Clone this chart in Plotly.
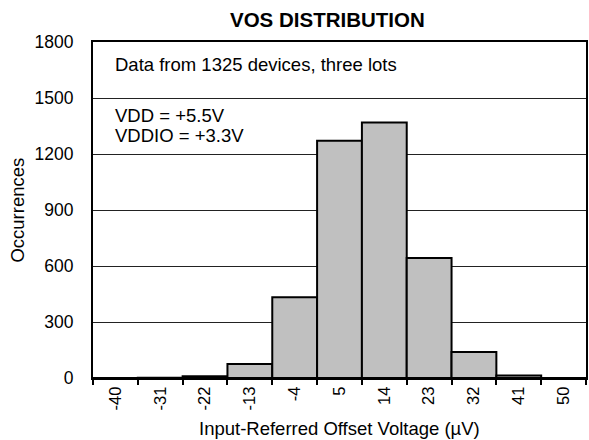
import plotly.graph_objects as go

categories = ["-40", "-31", "-22", "-13", "-4", "5", "14", "23", "32", "41", "50"]
occurrences = [0, 1, 9, 75, 432, 1271, 1369, 643, 139, 14, 0]
y_ticks = [0, 300, 600, 900, 1200, 1500, 1800]

FONT = "Liberation Sans, Arial, sans-serif"

fig = go.Figure(
    go.Bar(
        x=categories,
        y=occurrences,
        marker=dict(color="#C0C0C0", line=dict(color="black", width=2)),
        hoverinfo="skip",
    )
)

fig.update_layout(
    width=589,
    height=440,
    margin=dict(l=93, r=1, t=42, b=62),
    paper_bgcolor="white",
    plot_bgcolor="white",
    bargap=0,
    showlegend=False,
    font=dict(family=FONT, size=18.5, color="black"),
    annotations=[
        dict(text="<b>VOS DISTRIBUTION</b>", xref="paper", yref="paper",
             x=0.4765, y=1, yshift=23, xanchor="center", yanchor="middle",
             showarrow=False, font=dict(size=20.5)),
        dict(text="Data from 1325 devices, three lots", xref="paper", yref="y",
             x=0.040, y=1678, xanchor="left", yanchor="middle",
             showarrow=False, font=dict(size=18.5)),
        dict(text="VDD = +5.5V", xref="paper", yref="y",
             x=0.040, y=1408, xanchor="left", yanchor="middle",
             showarrow=False, font=dict(size=18.5)),
        dict(text="VDDIO = +3.3V", xref="paper", yref="y",
             x=0.040, y=1301, xanchor="left", yanchor="middle",
             showarrow=False, font=dict(size=18.5)),
        dict(text="Input-Referred Offset Voltage (µV)", xref="paper", yref="paper",
             x=0.5, y=-0.149, xanchor="center", yanchor="middle",
             showarrow=False, font=dict(size=18.5)),
        dict(text="Occurrences", xref="paper", yref="paper",
             x=-0.155, y=0.5, xanchor="center", yanchor="middle", textangle=-90,
             showarrow=False, font=dict(size=18.5)),
    ],
)

fig.update_xaxes(
    type="category",
    tickangle=-90,
    tickson="boundaries",
    ticks="outside",
    ticklen=5,
    tickwidth=2,
    tickcolor="black",
    showline=True,
    linecolor="black",
    linewidth=2,
    mirror=True,
    showgrid=False,
    tickfont=dict(size=16.5),
)

fig.update_yaxes(
    range=[0, 1800],
    tickvals=y_ticks,
    ticks="",
    ticklabelstandoff=14,
    showline=True,
    linecolor="black",
    linewidth=2,
    mirror=True,
    showgrid=True,
    gridcolor="#222222",
    gridwidth=1,
    zeroline=False,
    tickfont=dict(size=17.5),
)

fig.write_html(
    "out.html",
    config={"displayModeBar": False, "staticPlot": True},
    post_script="document.body.style.margin='0';document.body.style.padding='0';"
                "document.body.style.overflow='hidden';",
)
